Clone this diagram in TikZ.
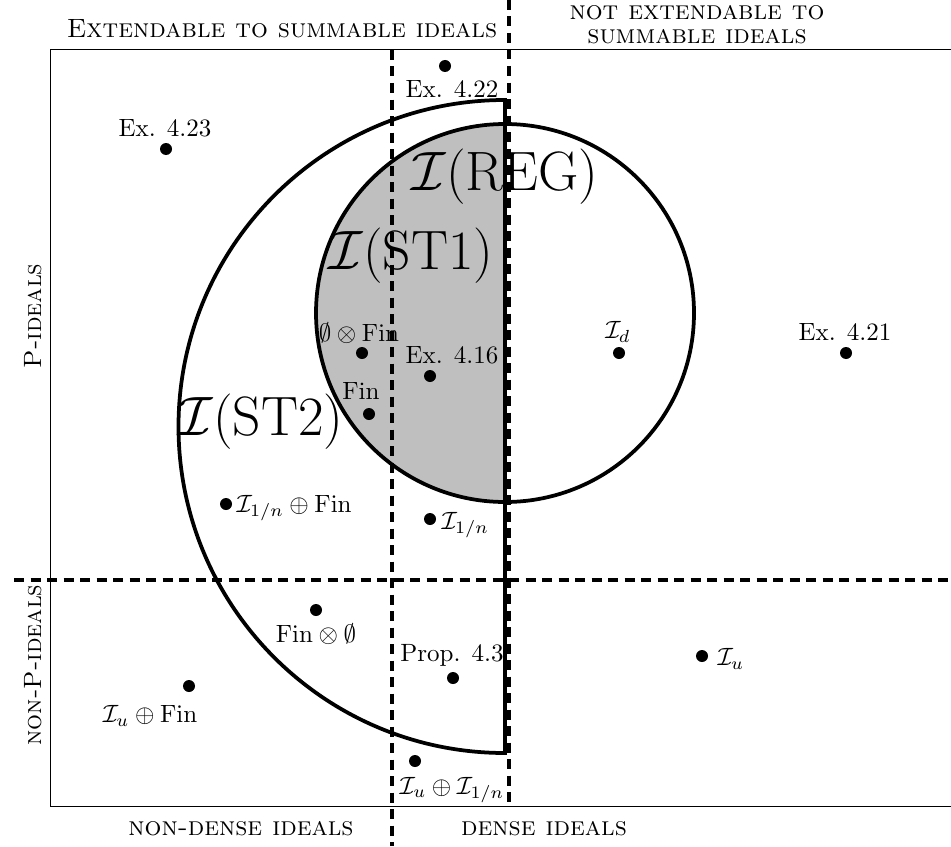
\documentclass[tikz,border=0pt]{standalone}
\begin{document}
\begin{tikzpicture}[x=0.4pt,y=-0.4pt,
  dot/.style={circle,fill=black,inner sep=0pt,minimum size=4.8pt},
  lbl/.style={inner sep=0pt},
  biglbl/.style={font=\huge,inner sep=0pt,transform shape,scale=1.07},
  headlbl/.style={font=\fontsize{10.6}{9.6}\selectfont,inner sep=0pt,align=center},
  dline/.style={line width=1.6pt,dash pattern=on 4pt off 2.6pt},
  bound/.style={line width=1.5pt}]
\useasboundingbox (0,0) rectangle (951,846);
\clip (0,0) rectangle (951,846);
% shaded half of the small circle
\fill[lightgray] (505,124) arc[start angle=-90,end angle=-270,radius=189] -- cycle;
% frame
\draw (960,50) -- (50,50) -- (50,806) -- (960,806);
% ST2 half disc and REG circle
\draw[bound] (505,100) arc[start angle=-90,end angle=-270,radius=326.5] -- cycle;
\draw[bound] (505,313) circle[radius=189];
% dashed separators
\draw[dline] (509,0) -- (509,806);
\draw[dline] (392,50) -- (392,846);
\draw[dline] (14,580) -- (951,580);
% side labels
\node[headlbl] (top1) at (282,29) {\textsc{Extendable to summable ideals}};
\node[headlbl] (top2) at (697,25) {\textsc{not extendable to}\\\textsc{summable ideals}};
\node[lbl,rotate=90] (left1) at (33,316) {\textsc{P-ideals}};
\node[lbl,rotate=90] (left2) at (33,665) {\textsc{non-P-ideals}};
\node[headlbl] (bot1) at (241,829) {\textsc{non-dense ideals}};
\node[headlbl] (bot2) at (544,829) {\textsc{dense ideals}};
% big labels
\node[biglbl] (reg) at (505,177) {$\mathcal{I}(\mathrm{REG})$};
\node[biglbl] (st1) at (411,256) {$\mathcal{I}(\mathrm{ST1})$};
\node[biglbl] (st2) at (261,422) {$\mathcal{I}(\mathrm{ST2})$};
% points
\node[dot] (p422) at (445,66) {};
\node[lbl] (l422) at (452,89) {Ex. 4.22};
\node[dot] (p423) at (166,149) {};
\node[lbl] (l423) at (165,128) {Ex. 4.23};
\node[dot] (pef) at (362,353) {};
\node[lbl] (lef) at (359,333) {$\emptyset\otimes\mathrm{Fin}$};
\node[dot] (p416) at (430,376) {};
\node[lbl] (l416) at (452,355) {Ex. 4.16};
\node[dot] (pfin) at (369,414) {};
\node[lbl] (lfin) at (361,391) {Fin};
\node[dot] (pd) at (619,353) {};
\node[lbl] (ld) at (618,332) {$\mathcal{I}_d$};
\node[dot] (p421) at (846,353) {};
\node[lbl] (l421) at (845,332) {Ex. 4.21};
\node[dot] (pnf) at (226,504) {};
\node[lbl,anchor=west] (lnf) at (236,508) {$\mathcal{I}_{1/n}\oplus\mathrm{Fin}$};
\node[dot] (pn) at (430,519) {};
\node[lbl,anchor=west] (ln) at (441,525) {$\mathcal{I}_{1/n}$};
\node[dot] (pfe) at (316,610) {};
\node[lbl] (lfe) at (316,634) {$\mathrm{Fin}\otimes\emptyset$};
\node[dot] (p43) at (453,678) {};
\node[lbl] (l43) at (452,655) {Prop. 4.3};
\node[dot] (pu) at (702,656) {};
\node[lbl,anchor=west] (lu) at (717,659) {$\mathcal{I}_u$};
\node[dot] (puf) at (189,686) {};
\node[lbl] (luf) at (150,716) {$\mathcal{I}_u\oplus\mathrm{Fin}$};
\node[dot] (pun) at (415,761) {};
\node[lbl] (lun) at (452,790) {$\mathcal{I}_u\oplus\mathcal{I}_{1/n}$};
\end{tikzpicture}
\end{document}
